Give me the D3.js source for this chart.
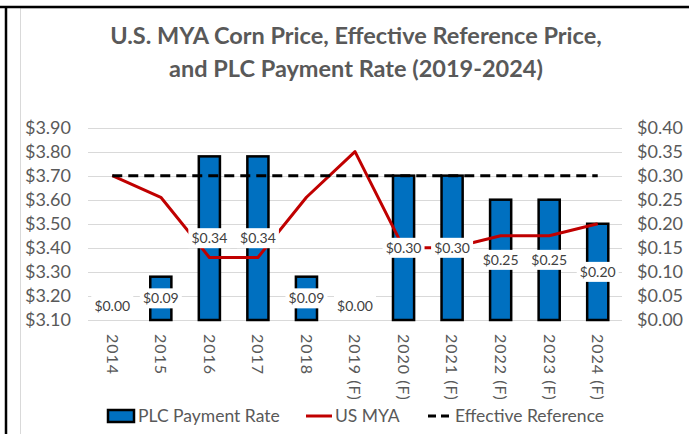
<!DOCTYPE html>
<html><head><meta charset="utf-8">
<script src="https://cdn.jsdelivr.net/npm/d3@7/dist/d3.min.js"></script>
<style>
html,body{margin:0;padding:0;background:#fff;}
svg{display:block;font-family:Lato,"Open Sans",sans-serif;}
</style></head>
<body>
<svg id="chart" width="689" height="434"></svg>
<script>
const years = ["2014","2015","2016","2017","2018","2019 (F)","2020 (F)","2021 (F)","2022 (F)","2023 (F)","2024 (F)"];
const plcRate = [0.00,0.09,0.34,0.34,0.09,0.00,0.30,0.30,0.25,0.25,0.20];
const usMya = [3.70,3.61,3.36,3.36,3.61,3.80,3.40,3.40,3.45,3.45,3.50];
const effRef = [3.70,3.70,3.70,3.70,3.70,3.70,3.70,3.70,3.70,3.70,3.70];
const leftTicks = [3.10,3.20,3.30,3.40,3.50,3.60,3.70,3.80,3.90];
const rightTicks = [0.00,0.05,0.10,0.15,0.20,0.25,0.30,0.35,0.40];
const titleLines = ["U.S. MYA Corn Price, Effective Reference Price,","and PLC Payment Rate (2019-2024)"];
const legendItems = ["PLC Payment Rate","US MYA","Effective Reference"];

const svg = d3.select("#chart");
const plot = {left:88, right:622, top:127.5, bottom:320};

// frame
svg.append("rect").attr("x",20.5).attr("y",8).attr("width",700).attr("height",440).attr("fill","#fff").attr("stroke","#d9d9d9");
svg.append("line").attr("x1",0).attr("x2",689).attr("y1",7).attr("y2",7).attr("stroke","#000").attr("stroke-width",2.5);
svg.append("line").attr("x1",6).attr("x2",6).attr("y1",6).attr("y2",434).attr("stroke","#000").attr("stroke-width",2.5);

// title
svg.append("g").selectAll("text").data(titleLines).join("text")
  .attr("x",356).attr("y",(d,i)=>44+i*33).attr("text-anchor","middle")
  .attr("font-weight","bold").attr("font-size",23.5).attr("fill","#595959").text(d=>d);

const x = d3.scaleBand().domain(years).range([plot.left,plot.right]).paddingInner(0.565).paddingOuter(0.2825);
const xc = d3.scaleBand().domain(years).range([plot.left,plot.right]);
const yL = d3.scaleLinear().domain([3.10,3.90]).range([plot.bottom,plot.top]);
const yR = d3.scaleLinear().domain([0,0.40]).range([plot.bottom,plot.top]);
const cx = d => xc(d)+xc.bandwidth()/2;

// gridlines
svg.append("g").selectAll("line").data(leftTicks).join("line")
  .attr("x1",plot.left).attr("x2",plot.right).attr("y1",d=>Math.round(yL(d))+0.5).attr("y2",d=>Math.round(yL(d))+0.5)
  .attr("stroke","#d9d9d9").attr("stroke-width",1);

// left axis
const axL = d3.axisLeft(yL).tickValues(leftTicks).tickFormat(d=>"$"+d.toFixed(2)).tickSize(0).tickPadding(17);
const gL = svg.append("g").attr("transform",`translate(${plot.left},0)`).call(axL);
gL.select(".domain").remove();
gL.selectAll("text").attr("font-size",18).attr("fill","#595959").attr("font-family","Lato");

const axR = d3.axisRight(yR).tickValues(rightTicks).tickFormat(d=>"$"+d.toFixed(2)).tickSize(0).tickPadding(15);
const gR = svg.append("g").attr("transform",`translate(${plot.right},0)`).call(axR);
gR.select(".domain").remove();
gR.selectAll("text").attr("font-size",18).attr("fill","#595959").attr("font-family","Lato");

// x axis labels rotated
const axB = d3.axisBottom(xc).tickSize(0).tickPadding(0);
const gB = svg.append("g").attr("transform",`translate(0,${plot.bottom})`).call(axB);
gB.select(".domain").remove();
gB.selectAll("text").attr("font-size",16).attr("fill","#595959").attr("font-family","Lato")
  .attr("text-anchor","start").attr("dy","0.35em").attr("transform","translate(0,14) rotate(90)")
  .attr("x",0).attr("y",0).style("letter-spacing","1px");

// bars
svg.append("g").selectAll("rect").data(years).join("rect")
  .attr("x",d=>x(d)).attr("width",x.bandwidth())
  .attr("y",(d,i)=>yR(plcRate[i])).attr("height",(d,i)=>plot.bottom-yR(plcRate[i]))
  .attr("fill","#0070C0").attr("stroke","#000").attr("stroke-width",2.5)
  .style("display",(d,i)=>plcRate[i]>0?null:"none");

// lines
const line = d3.line().x(d=>cx(d[0])).y(d=>yL(d[1]));
svg.append("path").datum(years.map((d,i)=>[d,usMya[i]])).attr("d",line)
  .attr("fill","none").attr("stroke","#C00000").attr("stroke-width",3).attr("stroke-linejoin","round");
svg.append("path").datum(years.map((d,i)=>[d,effRef[i]])).attr("d",line)
  .attr("fill","none").attr("stroke","#000").attr("stroke-width",3).attr("stroke-dasharray","10,6");

// data labels
const lbl = svg.append("g").selectAll("g").data(years).join("g")
  .attr("transform",(d,i)=>{
    const c = (yR(plcRate[i])+plot.bottom)/2;
    return `translate(${cx(d)},${Math.min(c,306)})`;
  });
lbl.append("rect").attr("x",-21).attr("y",-10).attr("width",42).attr("height",20).attr("fill","#fff");
lbl.append("text").attr("text-anchor","middle").attr("dy","0.36em").attr("font-size",14).attr("fill","#404040")
  .text((d,i)=>"$"+plcRate[i].toFixed(2));

// legend
const lg = svg.append("g").attr("transform","translate(0,416)");
lg.append("rect").attr("x",108).attr("y",-6).attr("width",26).attr("height",12).attr("fill","#0070C0").attr("stroke","#000").attr("stroke-width",2.5);
lg.append("line").attr("x1",306).attr("x2",332).attr("y1",0).attr("y2",0).attr("stroke","#C00000").attr("stroke-width",3);
lg.append("line").attr("x1",428).attr("x2",450).attr("y1",0).attr("y2",0).attr("stroke","#000").attr("stroke-width",3).attr("stroke-dasharray","8,5");
const lx = [138,335,455];
lg.selectAll("text.l").data(legendItems).join("text").attr("class","l")
  .attr("x",(d,i)=>lx[i]).attr("y",0).attr("dy","0.35em").attr("font-size",17.5).attr("fill","#595959").text(d=>d);
</script>
</body></html>
